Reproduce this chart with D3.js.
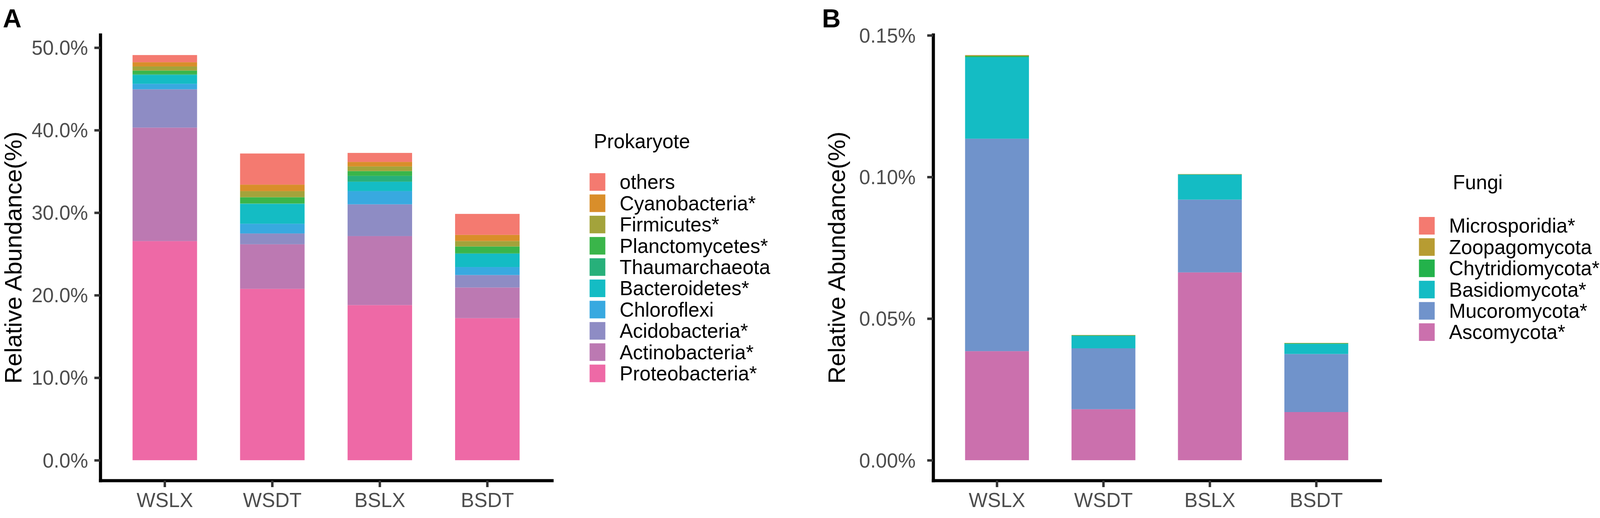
<!DOCTYPE html>
<html>
<head>
<meta charset="utf-8">
<script src="https://cdn.jsdelivr.net/npm/d3@7"></script>
<style>
  html, body { margin: 0; padding: 0; background: #fff; overflow: hidden; }
  svg { display: block; }
  text { font-family: "Liberation Sans", Arial, sans-serif; }
</style>
</head>
<body>
<div id="chart"></div>
<script>
// samples on the x axis (same for both panels)
const samples = ["WSLX", "WSDT", "BSLX", "BSDT"];

// panel A: prokaryote phyla, stacked bottom -> top
const prokPhyla = ["Proteobacteria*", "Actinobacteria*", "Acidobacteria*", "Chloroflexi",
    "Bacteroidetes*", "Thaumarchaeota", "Planctomycetes*", "Firmicutes*", "Cyanobacteria*", "others"];
const prokColours = ["#EE69A6", "#BC79B2", "#8E8CC4", "#38A9E0", "#14BCC4",
    "#27B07A", "#3AB54A", "#A3A33B", "#D98E2A", "#F47A70"];
// relative abundance (%) per sample, same order as prokPhyla
const prokWSLX = [26.55, 13.76, 4.64, 0.67, 1.08, 0.08, 0.44, 0.50, 0.51, 0.87];
const prokWSDT = [20.77, 5.40, 1.31, 1.18, 2.41, 0.05, 0.75, 0.74, 0.79, 3.77];
const prokBSLX = [18.80, 8.36, 3.85, 1.60, 1.14, 0.71, 0.58, 0.56, 0.55, 1.09];
const prokBSDT = [17.22, 3.71, 1.51, 0.97, 1.62, 0.05, 0.82, 0.66, 0.75, 2.54];
const prokTicks = [0, 10, 20, 30, 40, 50];

// panel B: fungi phyla, stacked bottom -> top
const fungiPhyla = ["Ascomycota*", "Mucoromycota*", "Basidiomycota*",
    "Chytridiomycota*", "Zoopagomycota", "Microsporidia*"];
const fungiColours = ["#CB70AD", "#7093CB", "#14BCC4", "#23B24B", "#B79C32", "#F47A70"];
const fungiWSLX = [0.0385, 0.0750, 0.0288, 0.0004, 0.0003, 0.00003];
const fungiWSDT = [0.0180, 0.0215, 0.0044, 0.0002, 0.0001, 0.00002];
const fungiBSLX = [0.0663, 0.0257, 0.0088, 0.0001, 0.0001, 0.00002];
const fungiBSDT = [0.0170, 0.0205, 0.0036, 0.0002, 0.0001, 0.00002];
const fungiTicks = [0, 0.05, 0.10, 0.15];

// layout is measured on a 4578x1325 figure, then fitted to the window
const W = 4578, H = 1325;
const vw = window.innerWidth || W, vh = window.innerHeight || H;
const sx = vw / W, sy = vh / H, fs = Math.min(sx, sy);
const X = v => v * sx, Y = v => v * sy, F = v => v * fs;

const svg = d3.select("#chart").append("svg")
    .attr("width", vw).attr("height", vh);
svg.append("rect").attr("width", vw).attr("height", vh).attr("fill", "#fff");

// build rows of {sample, phylum: value}
function buildRows(phyla, series) {
    return samples.map((s, i) => {
        const row = { sample: s };
        phyla.forEach((p, j) => { row[p] = series[i][j]; });
        return row;
    });
}

function drawPanel(cfg) {
    const top = 89, bottom = 1229;
    const rows = buildRows(cfg.phyla, cfg.series);
    const stack = d3.stack().keys(cfg.phyla)(rows);
    const maxVal = d3.max(stack[stack.length - 1], d => d[1]);

    // ggplot style 5% expansion on both ends
    const y = d3.scaleLinear()
        .domain([-0.05 * maxVal, 1.05 * maxVal])
        .range([Y(bottom), Y(top)]);
    const x = d3.scaleBand()
        .domain(samples)
        .range([X(cfg.left), X(cfg.right)])
        .paddingInner(0.4)
        .paddingOuter(0.3);
    const colour = d3.scaleOrdinal().domain(cfg.phyla).range(cfg.colours);

    const g = svg.append("g");

    // stacked bars
    g.selectAll(".layer")
        .data(stack)
        .enter().append("g")
        .attr("fill", d => colour(d.key))
        .selectAll("rect")
        .data(d => d)
        .enter().append("rect")
        .attr("x", d => x(d.data.sample))
        .attr("width", x.bandwidth())
        .attr("y", d => y(d[1]))
        .attr("height", d => y(d[0]) - y(d[1]));

    // y axis
    const yAxis = g.append("g")
        .attr("transform", `translate(${X(cfg.left)},0)`)
        .call(d3.axisLeft(y).tickValues(cfg.ticks)
            .tickFormat(d => d3.format(cfg.fmt)(d) + "%")
            .tickSize(X(17)).tickSizeOuter(0).tickPadding(X(cfg.tickPad)));
    // x axis
    const xAxis = g.append("g")
        .attr("transform", `translate(0,${Y(bottom)})`)
        .call(d3.axisBottom(x).tickSize(Y(17)).tickSizeOuter(0).tickPadding(Y(14)));

    [yAxis, xAxis].forEach(ax => {
        ax.select(".domain").attr("stroke", "#000").attr("stroke-width", F(9))
            .attr("stroke-linecap", "square");
        ax.selectAll(".tick line").attr("stroke", "#333333").attr("stroke-width", F(7));
        ax.selectAll(".tick text")
            .attr("fill", "#4D4D4D")
            .style("font-size", F(57) + "px")
            .style("font-family", "'Liberation Sans', Arial, sans-serif");
    });
    yAxis.selectAll(".tick text").attr("dy", "0.35em");
    xAxis.selectAll(".tick text").attr("dy", "0.72em");

    // axis title
    g.append("text")
        .attr("transform", `translate(${X(cfg.titleX)},${Y((top + bottom) / 2)}) rotate(-90)`)
        .attr("text-anchor", "middle")
        .style("font-size", F(69) + "px")
        .attr("fill", "#000")
        .text("Relative Abundance(%)");

    // panel letter
    g.append("text")
        .attr("x", X(cfg.letterX)).attr("y", Y(70))
        .style("font-size", F(74) + "px").style("font-weight", "bold")
        .text(cfg.letter);

    // legend, top entry is the last stacked layer
    const legend = g.append("g");
    legend.append("text")
        .attr("x", X(cfg.legTitleX)).attr("y", Y(cfg.legTitleY))
        .style("font-size", F(57) + "px")
        .text(cfg.legTitle);
    const items = cfg.phyla.slice().reverse();
    const item = legend.selectAll(".item")
        .data(items)
        .enter().append("g")
        .attr("transform", (d, i) => `translate(${X(cfg.legX)},${Y(cfg.legY + i * 54.4)})`);
    item.append("rect")
        .attr("width", X(45)).attr("height", Y(45))
        .attr("fill", d => colour(d));
    item.append("text")
        .attr("x", X(86)).attr("y", Y(22.5) + F(20))
        .style("font-size", F(57) + "px")
        .text(d => d);
}

drawPanel({
    phyla: prokPhyla, colours: prokColours,
    series: [prokWSLX, prokWSDT, prokBSLX, prokBSDT],
    ticks: prokTicks, fmt: ".1f", tickPad: 18,
    left: 287, right: 1579,
    titleX: 62, letter: "A", letterX: 8,
    legTitle: "Prokaryote", legTitleX: 1699, legTitleY: 379,
    legX: 1687, legY: 443
});

drawPanel({
    phyla: fungiPhyla, colours: fungiColours,
    series: [fungiWSLX, fungiWSDT, fungiBSLX, fungiBSDT],
    ticks: fungiTicks, fmt: ".2f", tickPad: 33,
    left: 2670, right: 3949,
    titleX: 2418, letter: "B", letterX: 2352,
    legTitle: "Fungi", legTitleX: 4157, legTitleY: 484,
    legX: 4060, legY: 555
});
</script>
</body>
</html>
